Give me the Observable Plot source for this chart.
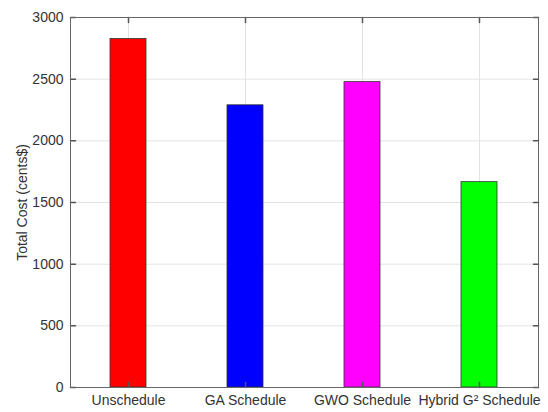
<!DOCTYPE html>
<html><head><meta charset="utf-8">
<script src="https://cdn.jsdelivr.net/npm/d3@7"></script>
<script src="https://cdn.jsdelivr.net/npm/@observablehq/plot@0.6"></script>
<style>body{margin:0;background:#fff}</style>
</head><body><div id="chart"></div>
<script>
const categories = ["Unschedule", "GA Schedule", "GWO Schedule", "Hybrid G² Schedule"];
const costs = [2825, 2288, 2476, 1665];
const colors = ["#ff0000", "#0000ff", "#ff00ff", "#00ff00"];
const yTicks = [0, 500, 1000, 1500, 2000, 2500, 3000];
const yLabel = "Total Cost (cents$)";

const data = categories.map((c, i) => ({category: c, cost: costs[i], color: colors[i]}));
const spike = {draw(ctx, l) { ctx.moveTo(0, 0); ctx.lineTo(0, -l); }};
const tickColor = "#555";

const chart = Plot.plot({
  width: 548, height: 412,
  marginLeft: 70, marginRight: 10, marginTop: 17, marginBottom: 25,
  style: {fontFamily: "'Liberation Sans', Arial, Helvetica, sans-serif", fontSize: "14px", color: "#333", background: "#fff"},
  x: {domain: categories, paddingInner: 0.69, paddingOuter: 0.345, label: null},
  y: {domain: [0, 3000], label: null},
  marks: [
    Plot.gridY(yTicks, {stroke: "#e3e3e3", strokeOpacity: 1}),
    Plot.gridX(categories, {stroke: "#e3e3e3", strokeOpacity: 1}),
    Plot.barY(data, {x: "category", y: "cost", fill: "color", stroke: "#333", strokeWidth: 0.8}),
    Plot.vector(yTicks, {y: d => d, frameAnchor: "left", length: 5, rotate: 90, anchor: "start", shape: spike, stroke: tickColor}),
    Plot.vector(yTicks, {y: d => d, frameAnchor: "right", length: 5, rotate: -90, anchor: "start", shape: spike, stroke: tickColor}),
    Plot.vector(categories, {x: d => d, frameAnchor: "top", length: 5, rotate: 180, anchor: "start", shape: spike, stroke: tickColor}),
    Plot.vector(categories, {x: d => d, frameAnchor: "bottom", length: 5, rotate: 0, anchor: "start", shape: spike, stroke: tickColor}),
    Plot.axisY(yTicks, {tickSize: 0, tickPadding: 7, label: null, tickFormat: d => String(d), fontSize: "14px"}),
    Plot.axisX({tickSize: 0, tickPadding: 8, fontSize: "14px", label: null}),
    Plot.text([yLabel], {text: d => d, frameAnchor: "left", dx: -48, rotate: -90, textAnchor: "middle", fontSize: "14px", fill: "#333"}),
    Plot.frame({stroke: "#666"})
  ]
});
document.getElementById("chart").appendChild(chart);
</script>
</body></html>
